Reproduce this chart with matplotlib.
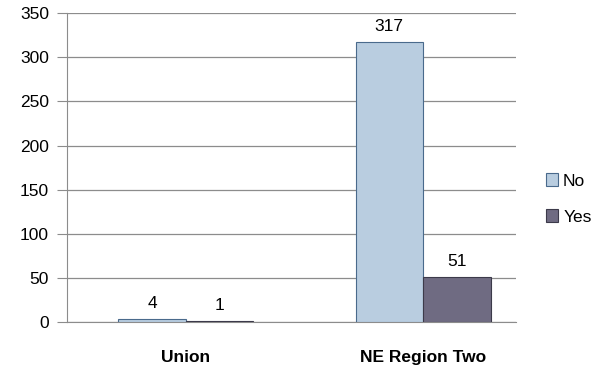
import matplotlib
matplotlib.use("Agg")
import matplotlib.pyplot as plt
import numpy as np

plt.rcParams['font.family'] = ['Liberation Sans', 'DejaVu Sans']

categories = ["Union", "NE Region Two"]
series_names = ["No", "Yes"]
no_vals = [4, 317]
yes_vals = [1, 51]
yticks = [0, 50, 100, 150, 200, 250, 300, 350]

fig = plt.figure(figsize=(5.99, 3.72), dpi=100)
ax = fig.add_axes([0.112, 0.134, 0.749, 0.831])

x = np.arange(len(categories))
w = 0.285
b1 = ax.bar(x - w / 2, no_vals, w, color="#b9cde0", edgecolor="#4a6a8c", linewidth=0.8, label=series_names[0], zorder=3)
b2 = ax.bar(x + w / 2, yes_vals, w, color="#6f6b82", edgecolor="#3c3a4a", linewidth=0.8, label=series_names[1], zorder=3)

for bars, vals in ((b1, no_vals), (b2, yes_vals)):
    for r, v in zip(bars, vals):
        ax.text(r.get_x() + r.get_width() / 2, v + 9, str(v), ha="center", va="bottom", fontsize=12.5)

ax.set_ylim(0, 350)
ax.set_xlim(-0.5, 1.39)
ax.set_yticks(yticks)
ax.yaxis.grid(True, color="#8c8c8c", linewidth=0.9, zorder=0)
ax.set_xticks(x)
ax.set_xticklabels(categories, fontsize=12.5, fontweight="bold")
ax.tick_params(axis="x", length=0, pad=20)
ax.tick_params(axis="y", length=7, color="#8c8c8c", labelsize=12.5, pad=6)
for s in ["top", "right"]:
    ax.spines[s].set_visible(False)
for s in ["left", "bottom"]:
    ax.spines[s].set_color("#8c8c8c")

fig.legend(handles=[b1, b2], loc="center left", bbox_to_anchor=(0.885, 0.465),
           frameon=False, fontsize=12.5, handlelength=0.7, handleheight=0.7,
           handletextpad=0.3, labelspacing=1.2)

fig.savefig("out.png", dpi=100)
